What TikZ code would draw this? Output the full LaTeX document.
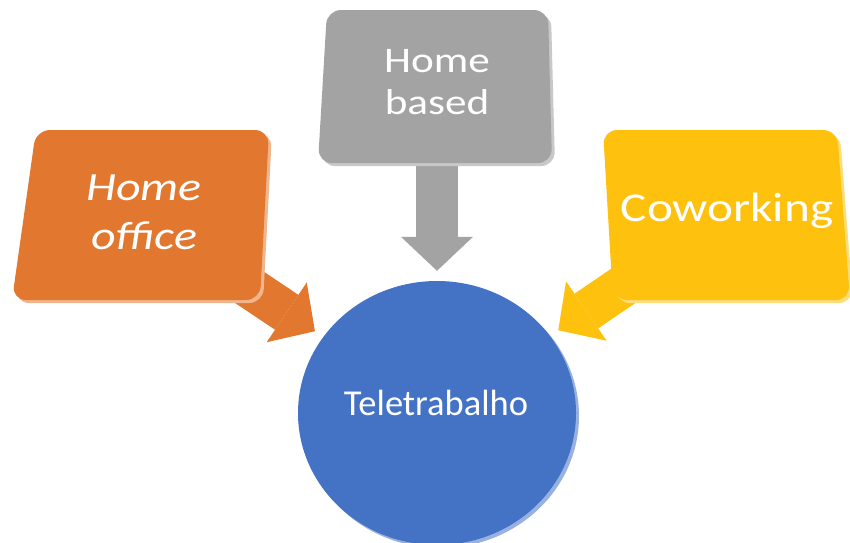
\documentclass[tikz,border=0pt]{standalone}
\usepackage{fontspec}
\setmainfont{Carlito}
\newfontfamily\widefont[FakeStretch=1.2]{Carlito}
\definecolor{og}{RGB}{226,120,48}
\definecolor{gy}{RGB}{163,163,163}
\definecolor{yl}{RGB}{253,193,14}
\definecolor{bl}{RGB}{68,114,196}
\usetikzlibrary{arrows.meta}
\usetikzlibrary{shapes.geometric}

\begin{document}
\begin{tikzpicture}[
      x=1pt, y=-1pt,
      every node/.style={text=white, align=center},
      blockarrow/.style={line width=42pt, shorten >=10pt,
        -{Triangle[width=72pt, length=34pt, line width=0pt]}}]
        \useasboundingbox (0,0) rectangle (850,542);

        % centre
        \fill[bl!55!white] (440,416) ellipse (139 and 132);
        \node[ellipse, fill=bl, minimum width=278pt, minimum height=264pt] (tele) at (437,413) {};

        \coordinate (ho) at (140,214);
        \coordinate (hb) at (437,86);
        \coordinate (cw) at (727,215);

        \draw[blockarrow, color=og] (ho) -- (tele);
        \draw[blockarrow, color=gy] (hb) -- (tele);
        \draw[blockarrow, color=yl] (cw) -- (tele);

        % Home office
        \fill[og!55!white, rounded corners=14pt] (39,133) -- (272,133) -- (263,303) -- (15,303) -- cycle;
        \fill[og, rounded corners=14pt] (36,130) -- (269,130) -- (260,300) -- (12,300) -- cycle;
        % Home based
        \fill[gy!60!white, rounded corners=14pt] (330,13) -- (551,13) -- (555,166) -- (321,166) -- cycle;
        \fill[gy, rounded corners=14pt] (327,10) -- (548,10) -- (552,163) -- (318,163) -- cycle;
        % Coworking
        \fill[yl!55!white, rounded corners=14pt] (606,133) -- (840,133) -- (853,303) -- (616,303) -- cycle;
        \fill[yl, rounded corners=14pt] (603,130) -- (837,130) -- (850,300) -- (613,300) -- cycle;

        {\widefont\fontsize{40}{49}\selectfont
        \node (homeoffice) at (ho) [xshift=4pt, yshift=2pt] {\itshape Home\\\itshape office};
        }
        {\widefont\fontsize{36}{42}\selectfont
        \node (homebased) at (hb) [yshift=4pt] {Home\\based};
        }
        {\widefont\fontsize{41}{48}\selectfont
        \node (coworking) at (cw) [yshift=4pt] {Coworking};
        }
        {\fontsize{36.5}{40}\selectfont
        \node (teletxt) at (436,403) {Teletrabalho};
        }

      \end{tikzpicture}
\end{document}
